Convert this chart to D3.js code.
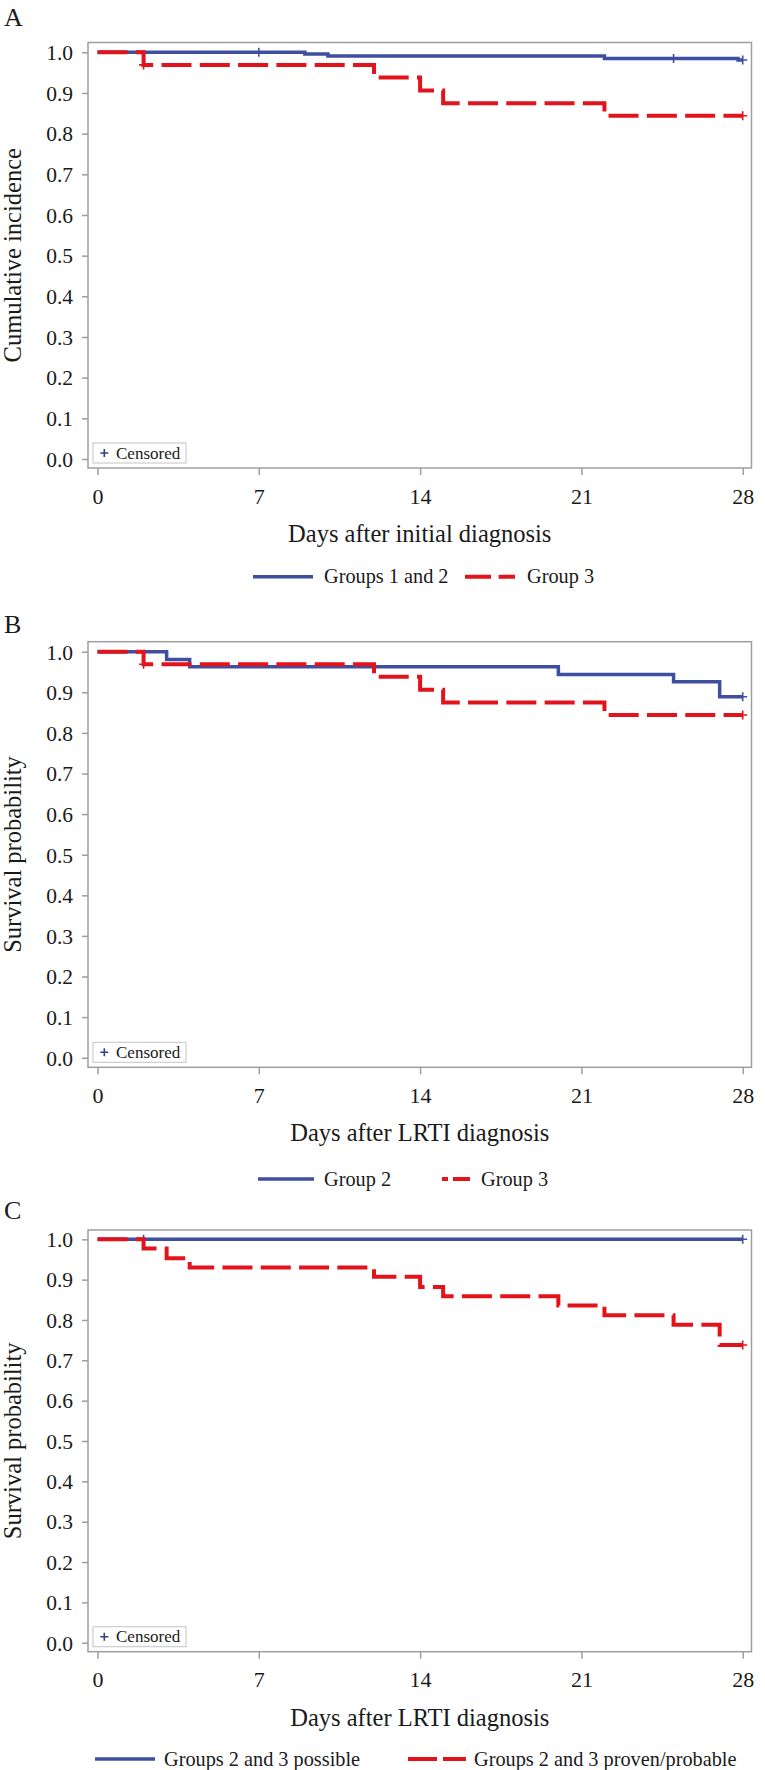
<!DOCTYPE html>
<html>
<head>
<meta charset="utf-8">
<script src="https://cdn.jsdelivr.net/npm/d3@7"></script>
<style>
  html, body { margin: 0; padding: 0; background: #ffffff; }
  svg { display: block; }
</style>
</head>
<body>
<svg id="chart" width="765" height="1770"></svg>
<script>
// ---------------- DATA ----------------
const panelLabels = ["A", "B", "C"];
const yTitles = ["Cumulative incidence", "Survival probability", "Survival probability"];
const xTitles = ["Days after initial diagnosis", "Days after LRTI diagnosis", "Days after LRTI diagnosis"];
const xTicks = [0, 7, 14, 21, 28];
const yTicks = [0.0, 0.1, 0.2, 0.3, 0.4, 0.5, 0.6, 0.7, 0.8, 0.9, 1.0];
const censoredLabel = "Censored";

const legendBlue = ["Groups 1 and 2", "Group 2", "Groups 2 and 3 possible"];
const legendRed = ["Group 3", "Group 3", "Groups 2 and 3 proven/probable"];

// Panel A
const aBlueTimes = [0, 9, 10, 22, 27.8];
const aBlueSurv = [1.0, 0.996, 0.991, 0.985, 0.981];
const aBlueCensor = [7, 25, 28];
const aRedTimes = [0, 2, 12, 14, 15, 22];
const aRedSurv = [1.0, 0.969, 0.938, 0.906, 0.875, 0.844];
const aRedCensor = [2, 28];

// Panel B
const bBlueTimes = [0, 3, 4, 20, 25, 27];
const bBlueSurv = [1.0, 0.981, 0.963, 0.944, 0.926, 0.889];
const bBlueCensor = [28];
const bRedTimes = [0, 2, 12, 14, 15, 22];
const bRedSurv = [1.0, 0.969, 0.938, 0.906, 0.875, 0.844];
const bRedCensor = [2, 28];

// Panel C
const cBlueTimes = [0];
const cBlueSurv = [1.0];
const cBlueCensor = [2, 28];
const cRedTimes = [0, 2, 3, 4, 12, 14, 15, 20, 22, 25, 27];
const cRedSurv = [1.0, 0.977, 0.953, 0.930, 0.907, 0.882, 0.859, 0.836, 0.812, 0.788, 0.738];
const cRedCensor = [28];

const endDay = 28;

// ---------------- LAYOUT / STYLE ----------------
const FONT = '"Liberation Serif", "Times New Roman", Times, serif';
const BLUE = "#3f4fa0";
const RED = "#e3131c";
const FRAME = "#9e9e9e";
const INK = "#1a1a1a";

const layout = [
  { labelY: 26,   top: 42.5,  bottom: 468,    y1: 52.3,   y0: 459,    legendY: 576.7,
    leg: { b0: 253, b1: 313, t1: 324, r0: 465, r1: 515, dash: "26 7.6", t2: 527 } },
  { labelY: 633,  top: 641.7, bottom: 1067.3, y1: 651.7,  y0: 1057.7, legendY: 1179,
    leg: { b0: 258, b1: 314, t1: 324, r0: 442, r1: 470, dash: "6 5 30 5", t2: 481 } },
  { labelY: 1219, top: 1230,  bottom: 1651.7, y1: 1239.3, y0: 1642.7, legendY: 1759,
    leg: { b0: 95,  b1: 155, t1: 164, r0: 408, r1: 466, dash: "29 6", t2: 474 } }
];
const frameLeft = 88, frameRight = 751.5;
const xRange = [97.5, 742.7];

const series = [
  { blue: [aBlueTimes, aBlueSurv, aBlueCensor], red: [aRedTimes, aRedSurv, aRedCensor] },
  { blue: [bBlueTimes, bBlueSurv, bBlueCensor], red: [bRedTimes, bRedSurv, bRedCensor] },
  { blue: [cBlueTimes, cBlueSurv, cBlueCensor], red: [cRedTimes, cRedSurv, cRedCensor] }
];

const svg = d3.select("#chart");
svg.append("rect").attr("width", 765).attr("height", 1770).attr("fill", "#ffffff");

function stepPoints(times, surv) {
  const pts = times.map((t, i) => ({ t: t, s: surv[i] }));
  pts.push({ t: endDay, s: surv[surv.length - 1] });
  return pts;
}
function survAt(times, surv, t) {
  let v = surv[0];
  for (let i = 0; i < times.length; i++) if (times[i] <= t) v = surv[i];
  return v;
}
function txt(sel, size) {
  return sel.append("text").attr("font-family", FONT).attr("font-size", size).attr("fill", INK);
}

layout.forEach((L, p) => {
  const g = svg.append("g");
  const x = d3.scaleLinear().domain([0, 28]).range(xRange);
  const y = d3.scaleLinear().domain([0, 1]).range([L.y0, L.y1]);

  // panel letter
  txt(g, 26).attr("x", 4).attr("y", L.labelY).text(panelLabels[p]);

  // frame
  g.append("rect")
    .attr("x", frameLeft).attr("y", L.top)
    .attr("width", frameRight - frameLeft).attr("height", L.bottom - L.top)
    .attr("fill", "none").attr("stroke", FRAME).attr("stroke-width", 1.5);

  // y axis
  const yAxis = d3.axisLeft(y).tickValues(yTicks).tickFormat(d3.format(".1f"))
    .tickSizeOuter(0).tickSizeInner(6).tickPadding(9);
  const ya = g.append("g").attr("transform", `translate(${frameLeft},0)`).call(yAxis)
    .attr("font-family", FONT);
  ya.select(".domain").remove();
  ya.selectAll(".tick line").attr("stroke", FRAME).attr("stroke-width", 1.5);
  ya.selectAll(".tick text")
    .attr("font-family", FONT).attr("font-size", 21.5)
    .attr("fill", INK).attr("dy", "0.34em");

  // x axis
  const xAxis = d3.axisBottom(x).tickValues(xTicks).tickFormat(d3.format("d"))
    .tickSizeOuter(0).tickSizeInner(7).tickPadding(13);
  const xa = g.append("g").attr("transform", `translate(0,${L.bottom})`).call(xAxis)
    .attr("font-family", FONT);
  xa.select(".domain").remove();
  xa.selectAll(".tick line").attr("stroke", FRAME).attr("stroke-width", 1.5);
  xa.selectAll(".tick text")
    .attr("font-family", FONT).attr("font-size", 22)
    .attr("fill", INK).attr("dy", "0.71em");

  // axis titles
  txt(g, 24.5).attr("x", (frameLeft + frameRight) / 2).attr("y", L.bottom + 74)
    .attr("text-anchor", "middle").text(xTitles[p]);
  txt(g, 24.5)
    .attr("transform", `translate(21,${(L.top + L.bottom) / 2}) rotate(-90)`)
    .attr("text-anchor", "middle").text(yTitles[p]);

  // curves
  const line = d3.line().x(d => x(d.t)).y(d => y(d.s)).curve(d3.curveStepAfter);
  const S = series[p];
  const defs = [
    { data: S.blue, color: BLUE, width: 3.5, dash: null },
    { data: S.red, color: RED, width: 4, dash: "30 8.3" }
  ];
  defs.forEach(def => {
    const [times, surv, cens] = def.data;
    g.append("path").datum(stepPoints(times, surv))
      .attr("d", line).attr("fill", "none")
      .attr("stroke", def.color).attr("stroke-width", def.width)
      .attr("stroke-dasharray", def.dash)
      .attr("stroke-linejoin", "miter").attr("stroke-linecap", "butt");
    // censor marks
    g.selectAll(null).data(cens).enter().append("path")
      .attr("d", d => {
        const cx = x(d), cy = y(survAt(times, surv, d)), r = 4.5;
        return `M${cx - r},${cy}H${cx + r}M${cx},${cy - r}V${cy + r}`;
      })
      .attr("stroke", def.color).attr("stroke-width", 1.6).attr("fill", "none");
  });

  // censored box
  const bx = 93, bw = 93, bh = 20, by = L.bottom - 5 - bh;
  g.append("rect").attr("x", bx).attr("y", by).attr("width", bw).attr("height", bh)
    .attr("fill", "#ffffff").attr("stroke", "#c4c4c4").attr("stroke-width", 1);
  g.append("path")
    .attr("d", `M${104.3 - 4},${by + 10}H${104.3 + 4}M104.3,${by + 6}V${by + 14}`)
    .attr("stroke", "#3a3d8a").attr("stroke-width", 1.6);
  txt(g, 17).attr("x", 116).attr("y", by + 15.5).text(censoredLabel);

  // legend
  const lg = L.leg;
  g.append("line").attr("x1", lg.b0).attr("x2", lg.b1)
    .attr("y1", L.legendY).attr("y2", L.legendY)
    .attr("stroke", BLUE).attr("stroke-width", 3.5);
  txt(g, 20.3).attr("x", lg.t1).attr("y", L.legendY + 6.6).text(legendBlue[p]);
  g.append("line").attr("x1", lg.r0).attr("x2", lg.r1)
    .attr("y1", L.legendY).attr("y2", L.legendY)
    .attr("stroke", RED).attr("stroke-width", 4).attr("stroke-dasharray", lg.dash);
  txt(g, 20.3).attr("x", lg.t2).attr("y", L.legendY + 6.6).text(legendRed[p]);
});
</script>
</body>
</html>
